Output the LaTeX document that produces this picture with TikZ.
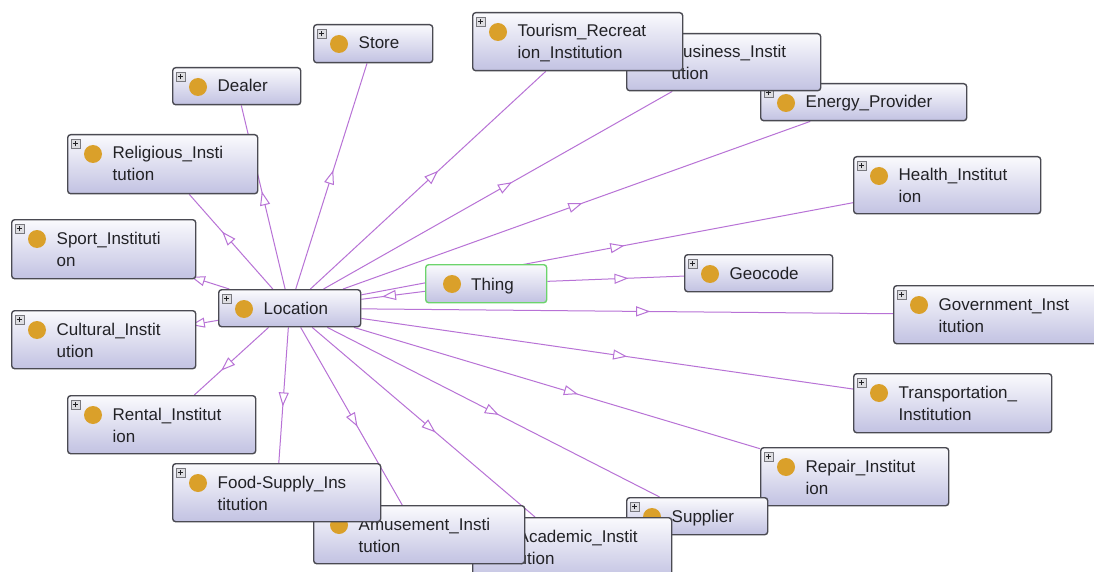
\documentclass[tikz,border=0pt]{standalone}
\usepackage{fontspec}
\setmainfont{Liberation Sans}
\usetikzlibrary{arrows.meta,decorations.markings}

\definecolor{edgec}{RGB}{184,114,214}
\definecolor{boxline}{RGB}{74,74,82}
\definecolor{boxtop}{RGB}{250,250,253}
\definecolor{boxbot}{RGB}{194,194,226}
\definecolor{dotc}{RGB}{218,160,42}
\definecolor{textc}{RGB}{34,34,38}
\definecolor{thingline}{RGB}{108,212,108}
\definecolor{plusfill}{RGB}{222,222,226}
\definecolor{plusline}{RGB}{120,120,126}

\pgfdeclarelayer{edges}
\pgfsetlayers{edges,main}

\tikzset{
  clsbox/.style={draw=boxline, line width=1.4pt, rounded corners=3pt,
    top color=boxtop, bottom color=boxbot, inner sep=0pt, anchor=north west},
  thingbox/.style={clsbox, draw=thingline},
  clstext/.style={font=\fontsize{17}{20}\selectfont, text=textc, inner sep=0pt, anchor=base west},
  clsdot/.style={fill=dotc},
  plusbox/.style={draw=plusline, fill=plusfill, line width=0.6pt, minimum size=9pt, inner sep=0pt},
  isaedge/.style={draw=edgec, line width=1pt},
  isatip/.style={color=edgec, postaction={decorate},
    decoration={markings, mark=at position 0.5 with
      {\arrow[xshift=6pt]{Triangle[length=14pt,width=10pt,fill=white,line width=1pt]}}}}
}

% one class box: name, left, top, width, height, first line, second line
\newcommand\cls[7]{%
  \node[clsbox, minimum width=#4pt, minimum height=#5pt] (#1) at (#2,#3) {};
  \fill[clsdot] ([shift={(26pt,-20pt)}]#1.north west) circle (9pt);
  \node[plusbox] (#1-plus) at ([shift={(8.5pt,-9.5pt)}]#1.north west) {};
  \draw[line width=0.8pt, textc]
    ([xshift=-2.8pt]#1-plus.center) -- ([xshift=2.8pt]#1-plus.center)
    ([yshift=-2.8pt]#1-plus.center) -- ([yshift=2.8pt]#1-plus.center);
  \node[clstext] (#1-a) at ([shift={(45.5pt,-25pt)}]#1.north west) {#6};
  \node[clstext] (#1-b) at ([shift={(45.5pt,-47pt)}]#1.north west) {#7};
}

% subclass link with its open triangle halfway between the two centres
\newcommand\isa[2]{%
  \begin{pgfonlayer}{edges}
    \draw[isaedge] (#1) -- (#2);
    \path[isatip] (#1.center) -- (#2.center);
  \end{pgfonlayer}}

\begin{document}
\begin{tikzpicture}[x=1pt, y=-1pt]
  \useasboundingbox (0,0) rectangle (1094,572);
  \begin{pgfonlayer}{edges}
    \fill[white] (0,0) rectangle (1094,572);
  \end{pgfonlayer}
  \clip (0,0) rectangle (1094,572);

  \cls{store}{313}{24}{119}{38}{Store}{}
  \cls{dealer}{172}{67}{128}{37}{Dealer}{}
  \cls{energy}{760}{83}{206}{37}{Energy\_Provider}{}
  \cls{business}{626}{33}{194}{57}{Business\_Instit}{ution}
  \cls{tourism}{472}{12}{210}{58}{Tourism\_Recreat}{ion\_Institution}
  \cls{religious}{67}{134}{190}{59}{Religious\_Insti}{tution}
  \cls{health}{853}{156}{187}{57}{Health\_Institut}{ion}
  \cls{sport}{11}{219}{184}{59}{Sport\_Instituti}{on}

  % the root class
  \node[thingbox, minimum width=121pt, minimum height=38pt] (thing) at (425,264) {};
  \fill[clsdot] ([shift={(27pt,-20pt)}]thing.north west) circle (9pt);
  \node[clstext] (thing-a) at ([shift={(46pt,-26pt)}]thing.north west) {Thing};

  \cls{geocode}{684}{254}{148}{37}{Geocode}{}
  \cls{location}{218}{289}{142}{37}{Location}{}
  \cls{government}{893}{285}{210}{58}{Government\_Inst}{itution}
  \cls{cultural}{11}{310}{184}{58}{Cultural\_Instit}{ution}
  \cls{transport}{853}{373}{198}{59}{Transportation\_}{Institution}
  \cls{rental}{67}{395}{188}{58}{Rental\_Institut}{ion}
  \cls{repair}{760}{447}{188}{58}{Repair\_Institut}{ion}
  \cls{supplier}{626}{497}{141}{37}{Supplier}{}
  \cls{academic}{472}{517}{199}{62}{Academic\_Instit}{ution}
  \cls{amusement}{313}{505}{211}{58}{Amusement\_Insti}{tution}
  \cls{food}{172}{463}{208}{58}{Food-Supply\_Ins}{titution}

  \isa{thing}{location}
  \isa{thing}{geocode}
  \isa{location}{store}
  \isa{location}{dealer}
  \isa{location}{tourism}
  \isa{location}{business}
  \isa{location}{energy}
  \isa{location}{religious}
  \isa{location}{health}
  \isa{location}{sport}
  \isa{location}{government}
  \isa{location}{cultural}
  \isa{location}{transport}
  \isa{location}{rental}
  \isa{location}{repair}
  \isa{location}{food}
  \isa{location}{supplier}
  \isa{location}{amusement}
  \isa{location}{academic}
\end{tikzpicture}
\end{document}
